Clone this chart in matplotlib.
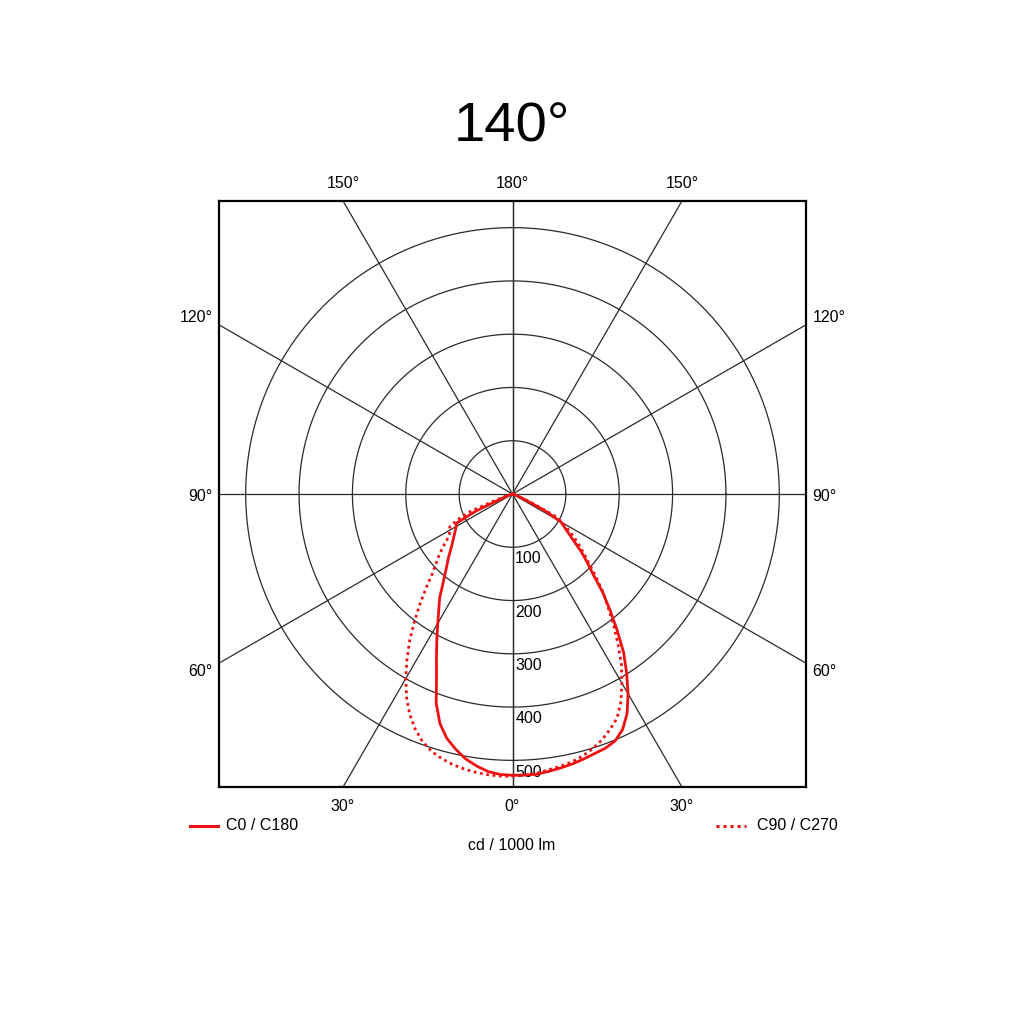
import numpy as np
import matplotlib
matplotlib.use("Agg")
import matplotlib.pyplot as plt

plt.rcParams['font.family'] = ['Liberation Sans', 'DejaVu Sans']

title = "140°"
unit_label = "cd / 1000 lm"
series_names = ["C0 / C180", "C90 / C270"]

# angles from nadir (degrees)
angles = [0, 2.5, 5, 7.5, 10, 12.5, 15, 17.5, 20, 22.5, 25, 27.5, 30, 32.5, 35, 37.5,
          40, 42.5, 45, 47.5, 50, 52.5, 55, 57.5, 60, 62.5, 65, 67.5, 70, 75, 80, 90]
# C0/C180 solid: left half (C180) and right half (C0), cd/1000 lm
c180 = [528, 527, 523, 515, 505, 491, 475, 452, 418, 372, 337, 307, 280, 257, 238, 215,
        197, 182, 170, 158, 148, 140, 133, 127, 122, 118, 75, 22, 8, 4, 2, 0]
c0 = [528, 528, 528, 525, 522, 519, 515, 511, 508, 502, 488, 465, 433, 398, 363, 322,
      284, 250, 214, 190, 168, 145, 128, 115, 105, 70, 30, 15, 8, 4, 2, 0]
# C90/C270 dotted: left half (C270) and right half (C90)
c270 = [530, 530, 529, 527, 524, 520, 514, 506, 494, 477, 456, 430, 400, 368, 336, 302,
        270, 240, 213, 195, 180, 165, 150, 140, 137, 132, 112, 85, 30, 6, 2, 0]
c90 = [528, 528, 526, 522, 519, 515, 509, 501, 491, 478, 464, 440, 410, 380, 345, 312,
       279, 252, 222, 196, 175, 157, 140, 123, 108, 92, 45, 15, 8, 4, 2, 0]

ring_values = [100, 200, 300, 400, 500]
spoke_angles = [0, 30, 60, 90, 120, 150, 180]
top_labels = ["150°", "180°", "150°"]
side_labels = ["120°", "90°", "60°"]
bottom_labels = ["30°", "0°", "30°"]

LIM = 550

fig = plt.figure(figsize=(10.24, 10.24), dpi=100)
ax = fig.add_axes([219/1024, 1 - 787/1024, 587/1024, 586/1024])
ax.set_xlim(-LIM, LIM)
ax.set_ylim(-LIM, LIM)
ax.set_aspect('auto')
ax.set_xticks([])
ax.set_yticks([])
for s in ax.spines.values():
    s.set_linewidth(1.6)
    s.set_color('black')
    s.set_zorder(5)

grid_kw = dict(color='#2a2a2a', lw=0.9, zorder=1)
t = np.linspace(0, 2 * np.pi, 400)
for rv in ring_values:
    ax.plot(rv * np.cos(t), rv * np.sin(t), **grid_kw)
for a in spoke_angles:
    ar = np.radians(a)
    R = 2000
    ax.plot([-R * np.sin(ar), R * np.sin(ar)], [R * np.cos(ar), -R * np.cos(ar)], **grid_kw)

def curve(left, right):
    th_l = -np.radians(np.array(angles[::-1]))
    r_l = np.array(left[::-1], dtype=float)
    th_r = np.radians(np.array(angles[1:]))
    r_r = np.array(right[1:], dtype=float)
    th = np.concatenate([th_l, th_r])
    r = np.concatenate([r_l, r_r])
    return r * np.sin(th), -r * np.cos(th)

x1, y1 = curve(c180, c0)
x2, y2 = curve(c270, c90)
red = '#ee1111'
ax.plot(x1, y1, color=red, lw=2.0, zorder=3, solid_joinstyle='round')
ax.plot(x2, y2, color=red, lw=2.0, ls=(0, (1, 1.3)), zorder=3)

for rv in ring_values:
    ax.text(5, -rv - 22, str(rv), ha='left', va='center', fontsize=11.5, zorder=2)

tfs = 11.5
xs = [-LIM * np.tan(np.radians(30)), 0, LIM * np.tan(np.radians(30))]
for lab, x in zip(top_labels, xs):
    ax.text(x, LIM + 32, lab, ha='center', va='center', fontsize=tfs)
for lab, x in zip(bottom_labels, xs):
    ax.text(x, -LIM - 36, lab, ha='center', va='center', fontsize=tfs)
ys = [332, -5, -333]
for lab, y in zip(side_labels, ys):
    ax.text(-LIM - 12, y, lab, ha='right', va='center', fontsize=tfs)
    ax.text(LIM + 12, y, lab, ha='left', va='center', fontsize=tfs)

fig.text(512/1024, 1 - 127/1024, title, ha='center', va='center', fontsize=40.5)
fig.text(512/1024, 1 - 845/1024, unit_label, ha='center', va='center', fontsize=11.5)

# legend
fig.add_artist(plt.Line2D([190/1024, 218/1024], [1 - 826/1024] * 2, color=red, lw=2.2))
fig.text(226/1024, 1 - 826/1024, series_names[0], ha='left', va='center', fontsize=11.5)
fig.add_artist(plt.Line2D([716/1024, 746/1024], [1 - 826/1024] * 2, color=red, lw=2.2,
                          ls=(0, (1, 1.3))))
fig.text(757/1024, 1 - 826/1024, series_names[1], ha='left', va='center', fontsize=11.5)

fig.savefig("out.png", dpi=100, facecolor='white')
